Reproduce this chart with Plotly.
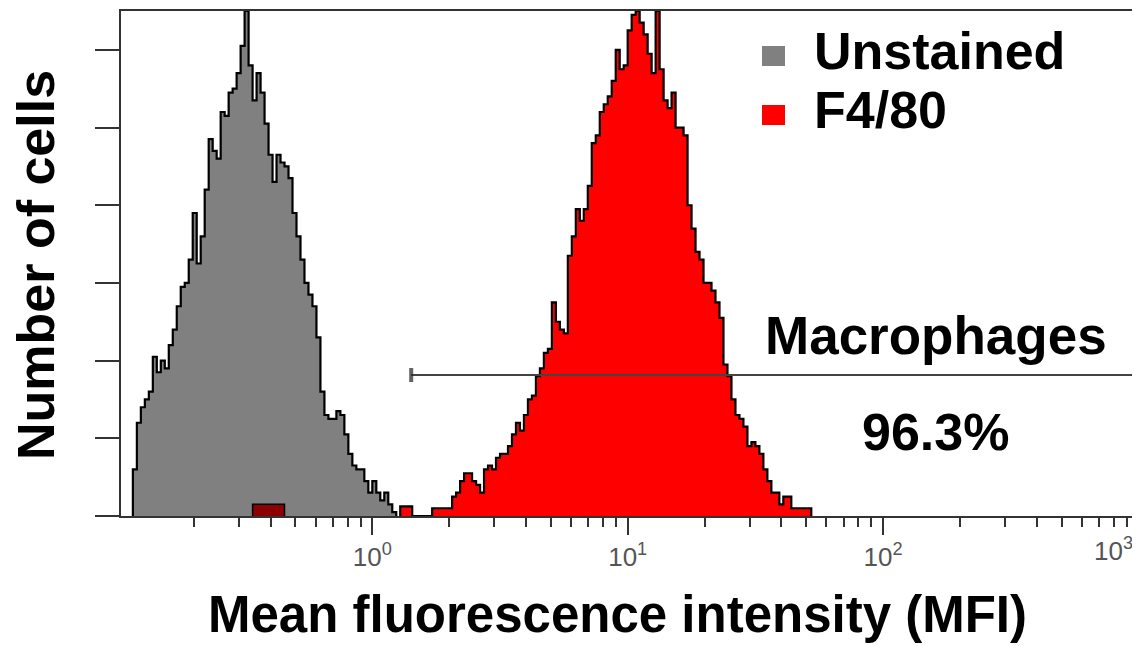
import plotly.graph_objects as go

# ---------------- data ----------------
# Histogram channels: 64 channels per decade, channel 0 at 10^-1
log_min = -1.0
channels_per_decade = 64

gray_first_channel = 4
gray_counts = [12, 24, 28, 30, 32, 41, 37, 40, 38, 44, 48, 54, 59, 60, 66, 78, 65, 72,
               84, 97, 94, 92, 104, 103, 109, 110, 114, 121, 130, 116, 107, 114, 109,
               101, 93, 86, 93, 91, 90, 87, 78, 72, 66, 60, 57, 54, 46, 32, 26, 25, 25,
               27, 26, 21, 16, 13, 12, 12, 9, 6, 9, 6, 4, 6, 3, 1]

red_first_channel = 71
red_counts = [2.5, 2.5, 2.5, 0, 0, 0, 0, 0, 2, 2, 2, 2, 2,
              5, 6, 9, 11, 11, 9, 8, 6, 12, 13, 12, 15, 16, 16, 18, 21, 24, 22, 26, 30,
              31, 36, 38, 42, 43, 55, 50, 48, 47, 67, 72, 79, 76, 79, 85, 96, 98, 104,
              106, 108, 112, 120, 115, 116, 125, 129, 130, 127, 124, 119, 114, 130, 115,
              107, 105, 109, 100, 100, 98, 80, 74, 68, 66, 60, 60, 58, 55, 51, 39, 36, 30,
              26, 25, 23, 18, 19, 18, 16, 12, 9, 6, 6, 3, 5, 5, 2, 2, 2, 2, 2]

# F4/80 events hidden under the unstained peak (shown dark red)
red_low_first_channel = 34
red_low_counts = [3, 3, 3, 3, 3, 3, 3, 3]

# gate marker
gate_start = 1.42
gate_end = 1000
gate_level = 36.3

legend_labels = ["Unstained", "F4/80"]
gate_label = "Macrophages"
gate_percent = "96.3%"

x_tick_values = [1, 10, 100, 1000]
x_tick_labels = ["10<sup>0</sup>", "10<sup>1</sup>", "10<sup>2</sup>", "10<sup>3</sup>"]
x_minor_values = [m * d for d in (0.1, 1, 10, 100) for m in range(2, 10)]
y_tick_values = [0, 20, 40, 60, 80, 100, 120]

x_title = "Mean fluorescence intensity (MFI)"
y_title = "Number of cells"

# ---------------- helpers ----------------
def edge(ch):
    return 10 ** (log_min + ch / channels_per_decade)

def step_xy(first_ch, counts):
    xs = [edge(first_ch)] + [edge(first_ch + i) for i in range(len(counts) + 1)]
    ys = [0] + list(counts) + [0]
    return xs, ys

FONT = "Liberation Sans, Arial, Helvetica, sans-serif"
GRAY = "#808080"
RED = "#ff0000"
DARKRED = "#8b0000"
TICK_FONT = dict(family=FONT, size=26, color="#555")

# page body has an 8px default margin: figure is 8px smaller than the window
FIG_W, FIG_H = 1132, 638
ML, MR, MT, MB = 113, 1, 3, 130
PW = FIG_W - ML - MR
PH = FIG_H - MT - MB

def px(xp):  # page x -> paper
    return (xp - 8 - ML) / PW

def py(yp):  # page y -> paper
    return 1 - (yp - 8 - MT) / PH

fig = go.Figure()

gx, gy = step_xy(gray_first_channel, gray_counts)
rx, ry = step_xy(red_first_channel, red_counts)
lx, ly = step_xy(red_low_first_channel, red_low_counts)

fig.add_trace(go.Scatter(x=gx, y=gy, mode="lines", line=dict(shape="hv", color="black", width=2.2),
                         fill="tozeroy", fillcolor=GRAY, name=legend_labels[0], hoverinfo="skip"))
fig.add_trace(go.Scatter(x=lx, y=ly, mode="lines", line=dict(shape="hv", color="black", width=1.5),
                         fill="tozeroy", fillcolor=DARKRED, name=legend_labels[1] + " (low)",
                         hoverinfo="skip"))
fig.add_trace(go.Scatter(x=rx, y=ry, mode="lines", line=dict(shape="hv", color="black", width=2.2),
                         fill="tozeroy", fillcolor=RED, name=legend_labels[1], hoverinfo="skip"))

# gate line
fig.add_trace(go.Scatter(x=[gate_start, gate_end], y=[gate_level, gate_level], mode="lines+markers",
                         line=dict(color="#444", width=2),
                         marker=dict(symbol=["line-ns", "line-ns"], size=[10, 0],
                                     line=dict(color="#222", width=4)),
                         hoverinfo="skip", cliponaxis=False))

fig.update_layout(
    width=FIG_W, height=FIG_H,
    margin=dict(l=ML, r=MR, t=MT, b=MB, autoexpand=False),
    paper_bgcolor="white", plot_bgcolor="white",
    showlegend=False,
    font=dict(family=FONT, color="black"),
)

# the last decade label sits at the plot's right edge: drawn shifted inward (as in the picture)
shown_tick_text = x_tick_labels[:-1] + [""]

fig.update_xaxes(
    type="log", range=[-0.984, 3.002], automargin=False,
    showgrid=False, zeroline=False,
    showline=True, mirror=True, linecolor="#333", linewidth=2,
    ticks="outside", ticklen=17, tickwidth=2, tickcolor="#333",
    tickvals=x_tick_values, ticktext=shown_tick_text,
    tickfont=TICK_FONT,
    minor=dict(tickvals=x_minor_values, ticks="outside", ticklen=9, tickwidth=2, tickcolor="#333"),
)
fig.update_yaxes(
    range=[0, 130], automargin=False,
    showgrid=False, zeroline=False,
    showline=True, mirror=True, linecolor="#333", linewidth=2,
    ticks="outside", ticklen=24, tickwidth=2, tickcolor="#333",
    tickvals=y_tick_values, showticklabels=False,
)

ann = []
ann.append(dict(text=x_tick_labels[-1], xref="paper", yref="paper", x=px(1092), y=py(549),
                xanchor="left", yanchor="middle", showarrow=False, font=TICK_FONT))
ann.append(dict(text="<b>" + y_title + "</b>", xref="paper", yref="paper", x=px(36), y=py(265),
                xanchor="center", yanchor="middle", textangle=-90, showarrow=False,
                font=dict(family=FONT, size=52, color="black")))
ann.append(dict(text="<b>" + x_title + "</b>", xref="paper", yref="paper", x=px(617), y=py(614),
                xanchor="center", yanchor="middle", showarrow=False,
                font=dict(family=FONT, size=51, color="black")))
ann.append(dict(text="<b>" + gate_label + "</b>", xref="paper", yref="paper", x=px(936), y=py(335),
                xanchor="center", yanchor="middle", showarrow=False,
                font=dict(family=FONT, size=53, color="black")))
ann.append(dict(text="<b>" + gate_percent + "</b>", xref="paper", yref="paper", x=px(935), y=py(432),
                xanchor="center", yanchor="middle", showarrow=False,
                font=dict(family=FONT, size=52, color="black")))

legend_y_centers = [51, 110]
legend_colors = [GRAY, RED]
shapes = []
for lab, yc, col in zip(legend_labels, legend_y_centers, legend_colors):
    ann.append(dict(text="<b>" + lab + "</b>", xref="paper", yref="paper", x=px(812), y=py(yc),
                    xanchor="left", yanchor="middle", showarrow=False,
                    font=dict(family=FONT, size=52, color="black")))
    shapes.append(dict(type="rect", xref="paper", yref="paper",
                       x0=px(762), x1=px(785),
                       y0=py(yc + 5 + 10), y1=py(yc + 5 - 10),
                       fillcolor=col, line=dict(width=0)))

fig.update_layout(annotations=ann, shapes=shapes)

fig.write_html("out.html")
